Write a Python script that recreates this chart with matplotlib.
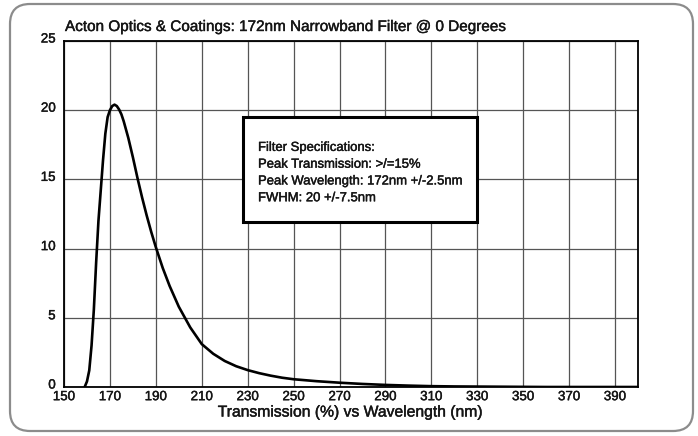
import numpy as np
import matplotlib.pyplot as plt
import matplotlib.patches as mpatches
import matplotlib.patheffects as pe
from matplotlib.transforms import IdentityTransform, ScaledTranslation

plt.rcParams['font.family'] = ['Liberation Sans', 'DejaVu Sans']

# transmission curve (nm, %)
wavelength = [159, 160, 161, 162, 163, 164, 165, 166, 167, 168, 169, 170, 171,
              172, 173, 174, 175, 176, 178, 180, 182, 184, 186, 188, 190, 193,
              196, 200, 205, 210, 215, 220, 225, 230, 235, 240, 245, 250, 260,
              270, 280, 290, 300, 310, 320, 340, 360, 400]
transmission = [0.0, 0.4, 1.2, 3.0, 5.6, 9.0, 12.0, 14.2, 16.4, 18.3, 19.5,
                20.0, 20.3, 20.4, 20.3, 20.05, 19.7, 19.2, 18.0, 16.6, 15.1,
                13.7, 12.4, 11.2, 10.1, 8.6, 7.3, 5.8, 4.3, 3.1, 2.4, 1.88,
                1.5, 1.22, 1.0, 0.82, 0.67, 0.56, 0.42, 0.31, 0.22, 0.15, 0.1,
                0.06, 0.04, 0.02, 0.0, 0.0]

x_ticks = list(range(150, 400, 20))
y_ticks = [0, 5, 10, 15, 20, 25]

title = 'Acton Optics & Coatings: 172nm Narrowband Filter @ 0 Degrees'
xlabel = 'Transmission (%) vs Wavelength (nm)'
spec_lines = ['Filter Specifications:',
              'Peak Transmission: >/=15%',
              'Peak Wavelength: 172nm +/-2.5nm',
              'FWHM: 20 +/-7.5nm']

# slightly heavier strokes, like the scanned print
heavy = [pe.withStroke(linewidth=0.3, foreground='#151515')]

fig = plt.figure(figsize=(6.98, 4.36), dpi=100)
fig.patch.set_facecolor('white')

# rounded grey frame around everything
frame = mpatches.FancyBboxPatch((10, 5), 683, 427,
                                boxstyle='round,pad=0,rounding_size=20',
                                transform=IdentityTransform(),
                                facecolor='none', edgecolor='#8c8c8c', lw=1.6)
fig.patches.append(frame)

ax = fig.add_axes([0.0917, 0.1124, 0.8223, 0.7936])
ax.plot(wavelength, transmission, color='black', lw=1.9, solid_capstyle='round')

ax.set_xlim(150, 400)
ax.set_ylim(0, 25)
ax.set_xticks(x_ticks)
ax.set_yticks(y_ticks)
ax.grid(True, color='#555555', lw=0.9)
ax.set_axisbelow(True)
ax.tick_params(length=0, labelsize=9.6, colors='#151515')
ax.tick_params(axis='y', pad=6)
ax.tick_params(axis='x', pad=3)
for lab in ax.get_xticklabels() + ax.get_yticklabels():
    lab.set_path_effects(heavy)
# y labels sit a little above their grid lines in the original
lift = ScaledTranslation(0, 3 / 100, fig.dpi_scale_trans)
for lab in ax.get_yticklabels():
    lab.set_transform(lab.get_transform() + lift)
for s in ax.spines.values():
    s.set_linewidth(1.3)
    s.set_color('black')

ax.set_xlabel(xlabel, fontsize=11.3, labelpad=1, color='#151515',
              path_effects=heavy)

fig.text(65 / 698, 1 - 27 / 436, title, fontsize=11, va='center',
         ha='left', color='#151515', path_effects=heavy)

# specification box
box = mpatches.Rectangle((0.311, 0.478), 0.408, 0.301, transform=ax.transAxes,
                         facecolor='white', edgecolor='black', lw=2.2, zorder=5)
ax.add_patch(box)
for i, line in enumerate(spec_lines):
    ax.text(0.338, 0.691 - i * 0.0485, line, transform=ax.transAxes,
            fontsize=9.4, va='center', ha='left', color='#151515', zorder=6,
            path_effects=heavy)

plt.savefig('out.png', dpi=100)
